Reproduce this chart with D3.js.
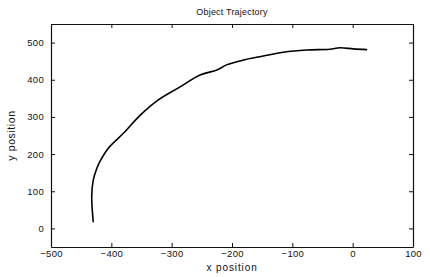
<!DOCTYPE html>
<html>
<head>
<meta charset="utf-8">
<script src="https://cdn.jsdelivr.net/npm/d3@7"></script>
<style>
html,body{margin:0;padding:0;background:#fff;}
svg{display:block;}
text{font-family:"Liberation Sans",Arial,sans-serif;fill:#111;}
</style>
</head>
<body>
<svg id="chart" width="430" height="277"></svg>
<script>
const title = "Object Trajectory";
const xLabel = "x position";
const yLabel = "y position";
const xTicks = [-500, -400, -300, -200, -100, 0, 100];
const yTicks = [0, 100, 200, 300, 400, 500];
const xDomain = [-500, 100];
const yDomain = [-50, 550];
const trajX = [-430, -432.5, -430, -424, -419, -405, -380, -352, -322, -286, -253, -225, -209, -181, -154, -115, -76, -38, -21, 1, 23];
const trajY = [18, 85, 130, 162, 180, 216, 256, 305, 346, 381, 413, 426, 440, 453, 462, 474, 480, 482, 486, 483, 481];

const svg = d3.select("#chart");
const m = {left: 51, right: 17, top: 24, bottom: 30};
const W = 430, H = 277;
const x = d3.scaleLinear().domain(xDomain).range([m.left, W - m.right]);
const y = d3.scaleLinear().domain(yDomain).range([H - m.bottom, m.top]);

const tl = 4;
const gB = svg.append("g").attr("transform", `translate(0,${H - m.bottom})`)
  .call(d3.axisBottom(x).tickValues(xTicks).tickSizeInner(-tl).tickSizeOuter(0).tickPadding(3).tickFormat(d3.format("d")));
const gT = svg.append("g").attr("transform", `translate(0,${m.top})`)
  .call(d3.axisTop(x).tickValues(xTicks).tickSizeInner(-tl).tickSizeOuter(0).tickFormat(""));
const gL = svg.append("g").attr("transform", `translate(${m.left},0)`)
  .call(d3.axisLeft(y).tickValues(yTicks).tickSizeInner(-tl).tickSizeOuter(0).tickPadding(7).tickFormat(d3.format("d")));
const gR = svg.append("g").attr("transform", `translate(${W - m.right},0)`)
  .call(d3.axisRight(y).tickValues(yTicks).tickSizeInner(-tl).tickSizeOuter(0).tickFormat(""));
[gB, gT, gL, gR].forEach(g => {
  g.select(".domain").attr("stroke", "#111").attr("stroke-width", 1.2);
  g.selectAll(".tick line").attr("stroke", "#111").attr("stroke-width", 1);
  g.selectAll("text").style("font-size", "9.5px").style("letter-spacing", "0.3px").attr("fill", "#111");
});

const pts = trajX.map((v, i) => [v, trajY[i]]);
svg.append("path").datum(pts)
  .attr("fill", "none").attr("stroke", "#000").attr("stroke-width", 1.6)
  .attr("stroke-linejoin", "round").attr("stroke-linecap", "round")
  .attr("d", d3.line().x(d => x(d[0])).y(d => y(d[1])).curve(d3.curveCatmullRom));

const cx = (x(xDomain[0]) + x(xDomain[1])) / 2;
svg.append("text").attr("x", cx).attr("y", 15)
  .attr("text-anchor", "middle").style("font-size", "9px").style("letter-spacing", "0.2px").text(title);
svg.append("text").attr("x", cx).attr("y", 270.5)
  .attr("text-anchor", "middle").style("font-size", "10px").style("letter-spacing", "0.9px").text(xLabel);
svg.append("text").attr("transform", `translate(15,${(y(yDomain[0]) + y(yDomain[1])) / 2}) rotate(-90)`)
  .attr("text-anchor", "middle").style("font-size", "10.5px").style("letter-spacing", "0.6px").text(yLabel);
</script>
</body>
</html>
